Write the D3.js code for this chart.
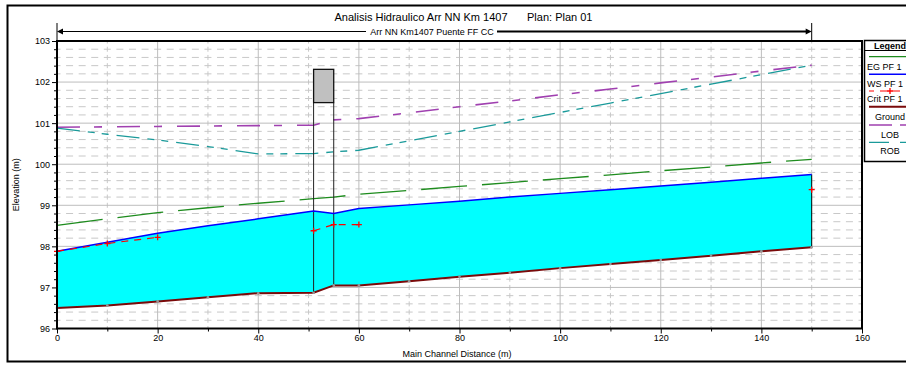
<!DOCTYPE html>
<html><head><meta charset="utf-8">
<script src="https://cdn.jsdelivr.net/npm/d3@7"></script>
<style>body{margin:0;background:#fff;} svg{display:block;font-family:"Liberation Sans",Arial,sans-serif;}</style>
</head><body><svg id="c" width="906" height="365"></svg>
<script>
// ---- data ----
const stations   = [0, 10, 20, 30, 40, 51, 55, 60, 70, 80, 90, 100, 110, 120, 130, 140, 150];
const groundElev = [96.5, 96.56, 96.66, 96.76, 96.86, 96.87, 97.05, 97.05, 97.15, 97.26, 97.36, 97.47, 97.57, 97.67, 97.77, 97.88, 97.98];
const wsElev     = [97.88, 98.1, 98.32, 98.5, 98.67, 98.86, 98.8, 98.92, 99.01, 99.1, 99.2, 99.29, 99.38, 99.47, 99.56, 99.66, 99.75];
const egElev     = [98.51, 98.67, 98.82, 98.94, 99.05, 99.16, 99.2, 99.27, 99.36, 99.46, 99.55, 99.65, 99.74, 99.84, 99.93, 100.03, 100.12];
const critElev   = [97.88, 98.07, 98.22, null, null, 98.38, 98.53, 98.53, null, null, null, null, null, null, null, null, 99.38];
const lobElev    = [100.9, 100.91, 100.92, 100.93, 100.94, 100.95, 101.08, 101.11, 101.25, 101.4, 101.54, 101.69, 101.83, 101.98, 102.12, 102.27, 102.41];
const robElev    = [100.88, 100.73, 100.59, 100.43, 100.25, 100.26, 100.3, 100.34, 100.57, 100.8, 101.03, 101.26, 101.49, 101.72, 101.95, 102.18, 102.41];
const bridgeStations = [51, 55];
const bridgeLowChord = 101.5;
const bridgeHighChord = 102.31;
const xTicks = [0, 20, 40, 60, 80, 100, 120, 140, 160];
const yTicks = [96, 97, 98, 99, 100, 101, 102, 103];
const reachEnds = [0, 150];
const legendLabels = ["EG PF 1", "WS PF 1", "Crit PF 1", "Ground", "LOB", "ROB"];
const titleText = "Analisis Hidraulico Arr NN Km 1407";
const planText = "Plan: Plan 01";
const reachText = "Arr NN Km1407 Puente FF CC";
const xLabel = "Main Channel Distance (m)";
const yLabel = "Elevation (m)";

// ---- setup ----
const svg = d3.select("#c");
const L = 57, R = 862, T = 41, B = 328.5;
const x = d3.scaleLinear().domain([0, 160]).range([L, R]);
const y = d3.scaleLinear().domain([96, 103]).range([B, T]);
const pts = stations.map((s, i) => ({s, g: groundElev[i], ws: wsElev[i], eg: egElev[i], cr: critElev[i], lob: lobElev[i], rob: robElev[i]}));

svg.append("rect").attr("width", 906).attr("height", 365).attr("fill", "#fff");
// outer frame
svg.append("rect").attr("x", 7.5).attr("y", 5.5).attr("width", 1000).attr("height", 356)
  .attr("fill", "none").attr("stroke", "#000").attr("stroke-width", 2);

// ---- grid ----
const grid = svg.append("g");
const pxPerTenth = (x(10) - x(0)) / 4;
d3.range(96.2, 103, 0.2).filter(v => Math.abs(v - Math.round(v)) > 0.01).forEach(v => {
  grid.append("line").attr("x1", L).attr("x2", R).attr("y1", y(v)).attr("y2", y(v))
    .attr("stroke", "#c8c8c8").attr("stroke-dasharray", `7,${pxPerTenth - 7}`).attr("stroke-dashoffset", 3.5);
});
const rowPx = y(96) - y(96.2);
d3.range(10, 160, 20).forEach(v => {
  grid.append("line").attr("x1", x(v)).attr("x2", x(v)).attr("y1", T).attr("y2", B)
    .attr("stroke", "#c8c8c8").attr("stroke-dasharray", `5,${rowPx - 5}`).attr("stroke-dashoffset", 2.5);
});
yTicks.slice(1, -1).forEach(v => {
  grid.append("line").attr("x1", L).attr("x2", R).attr("y1", y(v)).attr("y2", y(v)).attr("stroke", "#bdbdbd");
});
xTicks.slice(1, -1).forEach(v => {
  grid.append("line").attr("x1", x(v)).attr("x2", x(v)).attr("y1", T).attr("y2", B).attr("stroke", "#bdbdbd");
});

// ---- water fill ----
svg.append("path").datum(pts)
  .attr("d", d3.area().x(d => x(d.s)).y0(d => y(d.g)).y1(d => y(d.ws)))
  .attr("fill", "#00ffff");
const last = pts[pts.length - 1];
svg.append("line").attr("x1", x(last.s)).attr("x2", x(last.s)).attr("y1", y(last.g)).attr("y2", y(last.ws))
  .attr("stroke", "#000").attr("stroke-width", 1);

const line = key => d3.line().defined(d => d[key] != null).x(d => x(d.s)).y(d => y(d[key]));

// LOB, ROB, EG
svg.append("path").datum(pts).attr("d", line("lob")).attr("fill", "none")
  .attr("stroke", "#a040b0").attr("stroke-width", 1.6).attr("stroke-dasharray", "23,14,8,15");
svg.append("path").datum(pts).attr("d", line("rob")).attr("fill", "none")
  .attr("stroke", "#1a9a9a").attr("stroke-width", 1.3).attr("stroke-dasharray", "23,8,7,7,7,8");
svg.append("path").datum(pts).attr("d", line("eg")).attr("fill", "none")
  .attr("stroke", "#1e8c1e").attr("stroke-width", 1.3).attr("stroke-dasharray", "46,15");

// bridge
pts.filter(d => bridgeStations.includes(d.s)).forEach(d => {
  svg.append("line").attr("x1", x(d.s)).attr("x2", x(d.s)).attr("y1", y(bridgeLowChord)).attr("y2", y(d.g))
    .attr("stroke", "#222").attr("stroke-width", 1);
});
svg.append("rect").attr("x", x(bridgeStations[0])).attr("y", y(bridgeHighChord))
  .attr("width", x(bridgeStations[1]) - x(bridgeStations[0])).attr("height", y(bridgeLowChord) - y(bridgeHighChord))
  .attr("fill", "#c0c0c0").attr("stroke", "#111").attr("stroke-width", 1.3);

// WS
svg.append("path").datum(pts).attr("d", line("ws")).attr("fill", "none")
  .attr("stroke", "#0000ff").attr("stroke-width", 1.5);
// Crit
svg.append("path").datum(pts).attr("d", line("cr")).attr("fill", "none")
  .attr("stroke", "#ff0000").attr("stroke-width", 1.2).attr("stroke-dasharray", "7,6");
pts.filter(d => d.cr != null).forEach(d => {
  const cx = x(d.s), cy = y(d.cr);
  svg.append("path").attr("d", `M${cx - 3},${cy}H${cx + 3}M${cx},${cy - 3}V${cy + 3}`)
    .attr("stroke", "#ff0000").attr("stroke-width", 1.3);
});
// Ground
svg.append("path").datum(pts).attr("d", line("g")).attr("fill", "none")
  .attr("stroke", "#7a0a0a").attr("stroke-width", 2);
pts.forEach(d => {
  svg.append("circle").attr("cx", x(d.s)).attr("cy", y(d.g)).attr("r", 1.3).attr("fill", "#999");
});

// ---- plot frame & axes ----
svg.append("rect").attr("x", L).attr("y", T).attr("width", R - L).attr("height", B - T)
  .attr("fill", "none").attr("stroke", "#000").attr("stroke-width", 2);

const yAxis = svg.append("g").attr("transform", `translate(${L},0)`)
  .call(d3.axisLeft(y).tickValues(yTicks).tickFormat(d3.format("d")).tickSize(5).tickPadding(2));
const yMinor = svg.append("g").attr("transform", `translate(${L},0)`)
  .call(d3.axisLeft(y).tickValues(d3.range(96.2, 103, 0.2).filter(v => Math.abs(v - Math.round(v)) > 0.01)).tickFormat("").tickSize(3));
const xAxis = svg.append("g").attr("transform", `translate(0,${B})`)
  .call(d3.axisBottom(x).tickValues(xTicks).tickFormat(d3.format("d")).tickSize(5).tickPadding(1));
const xMinor = svg.append("g").attr("transform", `translate(0,${B})`)
  .call(d3.axisBottom(x).tickValues(d3.range(10, 160, 20)).tickFormat("").tickSize(3));
[yAxis, yMinor, xAxis, xMinor].forEach(g => {
  g.select(".domain").remove();
  g.selectAll("line").attr("stroke", "#000");
  g.selectAll("text").attr("font-size", 9).attr("fill", "#000").attr("font-family", "Liberation Sans, Arial, sans-serif");
});

// axis titles
svg.append("text").attr("transform", `translate(19,${(T + B) / 2}) rotate(-90)`)
  .attr("text-anchor", "middle").attr("font-size", 9).text(yLabel);
svg.append("text").attr("x", 457).attr("y", 357).attr("text-anchor", "middle").attr("font-size", 9).text(xLabel);

// title
svg.append("text").attr("x", 421).attr("y", 21).attr("text-anchor", "middle").attr("font-size", 11).text(titleText);
svg.append("text").attr("x", 527).attr("y", 21).attr("font-size", 11).text(planText);

// reach arrow
const ry = 31.5;
reachEnds.forEach(s => {
  svg.append("line").attr("x1", x(s)).attr("x2", x(s)).attr("y1", 23).attr("y2", T).attr("stroke", "#000");
});
svg.append("line").attr("x1", x(0) + 4).attr("x2", 366).attr("y1", ry).attr("y2", ry).attr("stroke", "#000").attr("stroke-width", 1);
svg.append("line").attr("x1", 497).attr("x2", x(150) - 4).attr("y1", ry).attr("y2", ry).attr("stroke", "#000").attr("stroke-width", 2);
svg.append("path").attr("d", `M${x(0)},${ry}l6,-3v6z`).attr("fill", "#000");
svg.append("path").attr("d", `M${x(150)},${ry}l-6,-3v6z`).attr("fill", "#000");
svg.append("text").attr("x", 432).attr("y", ry + 3.5).attr("text-anchor", "middle").attr("font-size", 9).text(reachText);

// ---- legend ----
const lg = svg.append("g");
const lx = 864.5, lcx = 890;
lg.append("rect").attr("x", lx).attr("y", 40.5).attr("width", 80).attr("height", 121)
  .attr("fill", "#fff").attr("stroke", "#000").attr("stroke-width", 1.5);
lg.append("line").attr("x1", lx).attr("x2", 906).attr("y1", 50.5).attr("y2", 50.5).attr("stroke", "#000");
lg.append("text").attr("x", lcx).attr("y", 48.5).attr("text-anchor", "middle").attr("font-size", 9)
  .attr("font-weight", "bold").text("Legend");
const legStyles = [
  {c: "#1e8c1e", w: 1.3, dash: null, ly: 56.7, ty: 70, left: true},
  {c: "#0000ff", w: 1.5, dash: null, ly: 74.3, ty: 87, left: true},
  {c: "#ff0000", w: 1.2, dash: "7,6", ly: 91, ty: 101.5, marker: true, left: true},
  {c: "#7a0a0a", w: 2, dash: null, ly: 106.7, ty: 120},
  {c: "#a040b0", w: 1.6, dash: "23,8", ly: 125, ty: 137.5},
  {c: "#1a9a9a", w: 1.3, dash: "20,11", ly: 142.3, ty: 153.5}
];
legStyles.forEach((st, i) => {
  const ln = lg.append("line").attr("x1", lcx - 21).attr("x2", lcx + 21).attr("y1", st.ly).attr("y2", st.ly)
    .attr("stroke", st.c).attr("stroke-width", st.w);
  if (st.dash) ln.attr("stroke-dasharray", st.dash).attr("stroke-dashoffset", i === 2 ? 2 : 0);
  if (st.marker) lg.append("path").attr("d", `M${lcx - 3},${st.ly}H${lcx + 3}M${lcx},${st.ly - 3}V${st.ly + 3}`)
    .attr("stroke", st.c).attr("stroke-width", 1.3);
  const t = lg.append("text").attr("y", st.ty).attr("font-size", 9).text(legendLabels[i]);
  if (st.left) t.attr("x", 867);
  else t.attr("x", lcx).attr("text-anchor", "middle");
});
</script></body></html>
